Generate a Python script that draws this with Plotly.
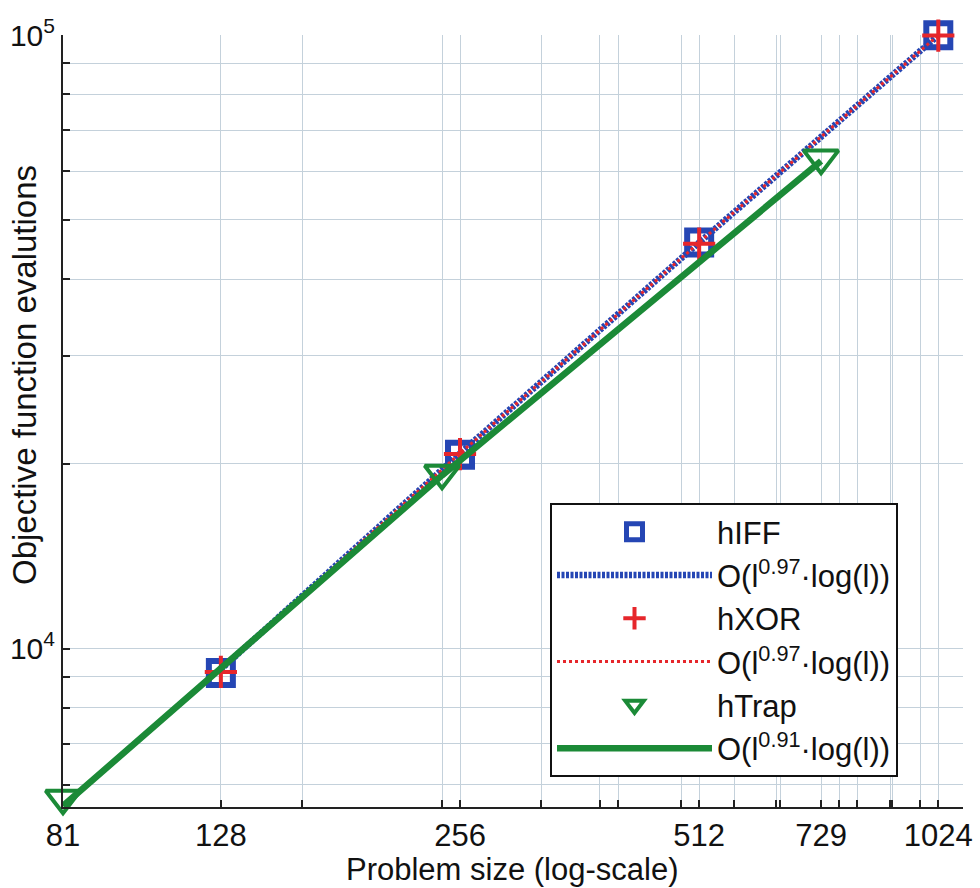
import math
import plotly.graph_objects as go

# ---------------- data ----------------
sizes_pow2 = [128, 256, 512, 1024]          # hIFF / hXOR problem sizes
sizes_pow3 = [81, 243, 729]                 # hTrap problem sizes

hiff_evals = [9120, 20700, 45900, 99900]
hiff_fit = [9250, 20800, 45900, 99900]
hxor_evals = [9160, 20750, 45700, 99800]
hxor_fit = [9250, 20800, 45900, 99900]
htrap_evals = [5700, 19300, 63000]
htrap_fit = [5540, 19150, 62300]

x_tick_vals = [81, 128, 162, 243, 256, 324, 384, 405, 486, 512, 567, 640,
               648, 729, 768, 810, 891, 896, 972, 1024]
x_labeled = [81, 128, 256, 512, 729, 1024]
y_tick_vals = [6000, 7000, 8000, 9000, 10000, 20000, 30000, 40000, 50000,
               60000, 70000, 80000, 90000, 100000]
y_labels = {10000: "10<sup>4</sup>", 100000: "10<sup>5</sup>"}

fit_label_097 = "O(l<sup>0.97</sup>·log(l))"
fit_label_091 = "O(l<sup>0.91</sup>·log(l))"

BLUE = "#2546b4"
RED = "#e6262b"
GREEN = "#1b8a37"
FONT = "Liberation Sans, Arial, sans-serif"

fig = go.Figure()

fig.add_trace(go.Scatter(
    x=sizes_pow2, y=hiff_evals, mode="markers", name="hIFF",
    marker=dict(symbol="square-open", size=24, color=BLUE,
                line=dict(width=6, color=BLUE)),
    cliponaxis=False))
fig.add_trace(go.Scatter(
    x=sizes_pow2, y=hiff_fit, mode="lines", name=fit_label_097,
    line=dict(color=BLUE, width=6.5, dash="3px,1.5px")))
fig.add_trace(go.Scatter(
    x=sizes_pow2, y=hxor_evals, mode="markers", name="hXOR",
    marker=dict(symbol="cross-thin-open", size=23, color=RED,
                line=dict(width=4, color=RED)),
    cliponaxis=False))
fig.add_trace(go.Scatter(
    x=sizes_pow2, y=hxor_fit, mode="lines", name=fit_label_097,
    line=dict(color=RED, width=3, dash="3px,3px")))
fig.add_trace(go.Scatter(
    x=sizes_pow3, y=htrap_evals, mode="markers", name="hTrap",
    marker=dict(symbol="triangle-down-open", size=30, color=GREEN,
                line=dict(width=4, color=GREEN)),
    cliponaxis=False))
fig.add_trace(go.Scatter(
    x=sizes_pow3, y=htrap_fit, mode="lines", name=fit_label_091,
    line=dict(color=GREEN, width=6.5)))

fig.update_layout(
    width=980, height=888,
    margin=dict(l=63, r=17, t=35, b=81, autoexpand=False),
    paper_bgcolor="white", plot_bgcolor="white",
    font=dict(family=FONT, color="#111111"),
    showlegend=True,
    legend=dict(
        x=(550 - 63) / 900, y=(807 - 503) / 772,
        xanchor="left", yanchor="top",
        bgcolor="white", bordercolor="#111111", borderwidth=2,
        font=dict(size=31, family=FONT, color="#111111"),
        itemwidth=155, tracegroupgap=0, traceorder="normal",
    ),
    xaxis=dict(
        type="log",
        range=[math.log10(81), math.log10(1100)],
        tickmode="array",
        tickvals=x_tick_vals,
        ticktext=[str(v) if v in x_labeled else "" for v in x_tick_vals],
        ticks="inside", ticklen=7, tickwidth=1.5, tickcolor="#222222",
        showline=True, linecolor="#222222", linewidth=2,
        showgrid=True, gridcolor="#c4d1db", gridwidth=1,
        zeroline=False, automargin=False,
        tickfont=dict(size=31, family=FONT, color="#111111"),
    ),
    yaxis=dict(
        type="log",
        range=[math.log10(5517), 5],
        tickmode="array",
        tickvals=y_tick_vals,
        ticktext=[y_labels.get(v, "") for v in y_tick_vals],
        ticks="inside", ticklen=7, tickwidth=1.5, tickcolor="#222222",
        showline=True, linecolor="#222222", linewidth=2,
        showgrid=True, gridcolor="#c4d1db", gridwidth=1,
        zeroline=False, automargin=False,
        tickfont=dict(size=30, family=FONT, color="#111111"),
    ),
    annotations=[
        dict(text="Objective function evalutions",
             xref="paper", yref="paper",
             x=(24 - 63) / 900, y=(807 - 375) / 772,
             xanchor="center", yanchor="middle",
             textangle=-90, showarrow=False,
             font=dict(size=33, family=FONT, color="#111111")),
        dict(text="Problem size (log-scale)",
             xref="paper", yref="paper",
             x=(512 - 63) / 900, y=(807 - 869) / 772,
             xanchor="center", yanchor="middle",
             showarrow=False,
             font=dict(size=31, family=FONT, color="#111111")),
    ],
)

fig.write_html(
    "out.html",
    config={"displayModeBar": False},
    post_script="document.body.style.margin='0';document.body.style.padding='0';",
)
